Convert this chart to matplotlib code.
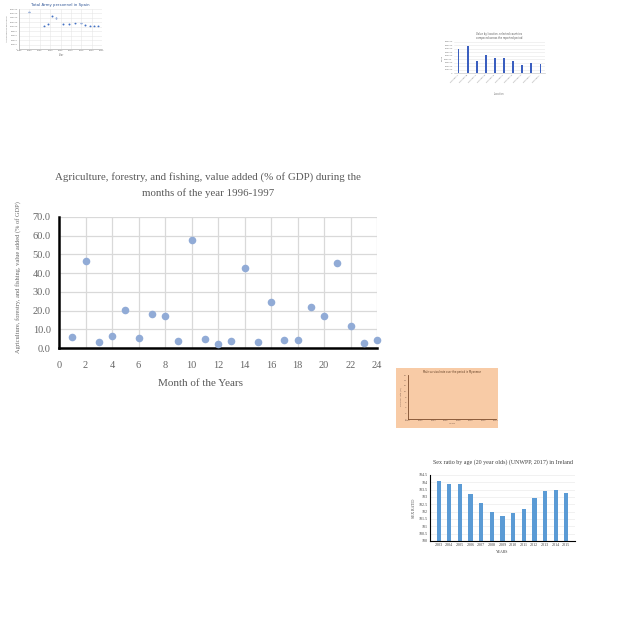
import numpy as np
import matplotlib.pyplot as plt

# main chart data
months = list(range(1, 25))
value_added = [5.9, 46.3, 3.0, 6.4, 20.3, 5.5, 18.4, 16.9, 3.6, 57.6, 5.0, 2.3,
               3.9, 43.0, 3.4, 24.8, 4.5, 4.5, 22.1, 16.9, 45.5, 11.9, 2.7, 4.3]

# thumbnail: army personnel in Spain
army_years = [1990, 1997, 1999, 2001, 2003, 2006, 2009, 2012, 2015, 2017, 2019, 2021, 2023]
army_people = [166000, 104000, 112000, 147000, 138000, 112000, 113000, 116000,
               116000, 110000, 104000, 103000, 103000]

# thumbnail: bar chart by location
locations = ['Country A', 'Country B', 'Country C', 'Country D', 'Country E',
             'Country F', 'Country G', 'Country H', 'Country I', 'Country J']
location_values = [687000, 774000, 339000, 532000, 445000, 426000, 348000, 242000, 300000, 252000]

# thumbnail: Ireland sex ratio
ireland_years = [str(y) for y in range(2003, 2016)]
sex_ratio = [104.1, 103.9, 103.9, 103.2, 102.6, 102.0, 101.7, 101.9, 102.2, 102.9, 103.4, 103.5, 103.3]

fig = plt.figure(figsize=(6.4, 6.4), dpi=100)
W = H = 640.0


def box(x0, y0, x1, y1):
    return [x0 / W, 1 - y1 / H, (x1 - x0) / W, (y1 - y0) / H]


# ---- main scatter chart ----
serif = 'Liberation Serif'
grey = '#666666'
ax = fig.add_axes(box(59, 217, 377, 348))
ax.scatter(months, value_added, s=30, color='#91abd6', zorder=3, linewidths=0, clip_on=False)
ax.set_xlim(0, 24)
ax.set_ylim(0, 70)
ax.set_xticks(np.arange(0, 25, 2))
ax.set_yticks(np.arange(0, 71, 10))
ax.set_yticklabels([f'{v:.1f}' for v in np.arange(0, 71, 10)])
ax.grid(True, color='#d9d9d9', linewidth=0.9)
ax.set_axisbelow(True)
for s in ['top', 'right']:
    ax.spines[s].set_visible(False)
for s in ['left', 'bottom']:
    ax.spines[s].set_linewidth(1.8)
    ax.spines[s].set_color('black')
ax.tick_params(axis='y', length=0, labelsize=7.5, labelcolor=grey, pad=6)
ax.tick_params(axis='x', length=0, labelsize=7.5, labelcolor=grey, pad=9)
for lab in ax.get_xticklabels() + ax.get_yticklabels():
    lab.set_family(serif)
fig.text(208 / W, 1 - 177 / H, 'Agriculture, forestry, and fishing, value added (% of GDP) during the',
         ha='center', va='center', fontsize=7.8, color='#595959', family=serif)
fig.text(208 / W, 1 - 193 / H, 'months of the year 1996-1997',
         ha='center', va='center', fontsize=7.8, color='#595959', family=serif)
fig.text(200 / W, 1 - 383 / H, 'Month of the Years', ha='center', va='center',
         fontsize=8, color='#595959', family=serif)
fig.text(18 / W, 1 - 277 / H, 'Agriculture, forestry, and fishing, value added (% of GDP)',
         ha='center', va='center', rotation=90, fontsize=4.6, color=grey, family=serif)

# ---- thumbnail: Spain army scatter ----
t1 = fig.add_axes(box(19, 9, 102, 49))
t1.scatter(army_years, army_people, s=2, color='#4472c4', linewidths=0)
t1.set_xlim(1985, 2025)
t1.set_ylim(0, 180000)
t1.set_yticks(np.arange(0, 180001, 20000))
t1.set_xticks(np.arange(1985, 2026, 5))
t1.grid(True, color='#e6e6e6', linewidth=0.4)
t1.tick_params(labelsize=1.6, length=0, pad=1, labelcolor='#777777')
for s in ['top', 'right']:
    t1.spines[s].set_visible(False)
for s in ['left', 'bottom']:
    t1.spines[s].set_linewidth(0.4)
    t1.spines[s].set_color('#999999')
t1.set_title('Total Army personnel in Spain', fontsize=2.8, color='#2f5597', pad=2)
t1.set_xlabel('Year', fontsize=1.8, labelpad=1, color='#777777')
t1.set_ylabel('Armed forces personnel', fontsize=1.6, labelpad=1, color='#777777')

# ---- thumbnail: location bars ----
t2 = fig.add_axes(box(454, 42, 545, 73))
t2.bar(locations, location_values, width=0.15, color='#3b5fc0')
t2.set_ylim(0, 900000)
t2.set_yticks(np.arange(0, 900001, 100000))
t2.grid(True, axis='y', color='#e6e6e6', linewidth=0.4)
t2.set_axisbelow(True)
t2.tick_params(labelsize=1.6, length=0, pad=1, labelcolor='#777777')
plt.setp(t2.get_xticklabels(), rotation=45, ha='right')
for s in ['top', 'right', 'left']:
    t2.spines[s].set_visible(False)
t2.spines['bottom'].set_linewidth(0.4)
t2.spines['bottom'].set_color('#bbbbbb')
t2.set_title('Value by location, selected countries\ncompared across the reported period',
             fontsize=1.8, color='#555555', pad=2)
t2.set_xlabel('Location', fontsize=1.8, labelpad=6, color='#777777')
t2.set_ylabel('Value', fontsize=1.6, labelpad=1, color='#777777')

# ---- thumbnail: orange empty chart ----
bg = fig.add_axes(box(396, 368, 498, 428))
bg.set_facecolor('#f8cba6')
bg.set_xticks([])
bg.set_yticks([])
for s in bg.spines.values():
    s.set_visible(False)
t3 = fig.add_axes(box(408, 375, 496, 419))
t3.set_facecolor('#f8cba6')
t3.set_xlim(2000, 2014)
t3.set_ylim(0, 16)
t3.set_xticks(np.arange(2000, 2015, 2))
t3.set_yticks(np.arange(0, 17, 2))
t3.tick_params(labelsize=1.6, length=0, pad=1, labelcolor='#7f5f4f')
for s in ['top', 'right']:
    t3.spines[s].set_visible(False)
for s in ['left', 'bottom']:
    t3.spines[s].set_linewidth(0.6)
    t3.spines[s].set_color('#7b4b2a')
t3.set_title('Male survival rate over the period in Myanmar', fontsize=1.8,
             color='#5b3a20', pad=1.5)
t3.set_xlabel('Years', fontsize=1.6, labelpad=1, color='#7f5f4f')
t3.set_ylabel('Survival rate (%)', fontsize=1.6, labelpad=1, color='#7f5f4f')

# ---- thumbnail: Ireland sex ratio bars ----
t4 = fig.add_axes(box(430, 475, 575, 541))
t4.bar(ireland_years, sex_ratio, width=0.4, color='#5b9bd5')
t4.set_ylim(100, 104.5)
t4.set_yticks(np.arange(100, 104.6, 0.5))
t4.set_yticklabels([f'{v:g}' for v in np.arange(100, 104.6, 0.5)])
t4.grid(True, axis='y', color='#e6e6e6', linewidth=0.4)
t4.set_axisbelow(True)
t4.tick_params(labelsize=3, length=0, pad=1.5, labelcolor='#404040')
for s in ['top', 'right']:
    t4.spines[s].set_visible(False)
for s in ['left', 'bottom']:
    t4.spines[s].set_linewidth(0.8)
    t4.spines[s].set_color('black')
for lab in t4.get_xticklabels() + t4.get_yticklabels():
    lab.set_family(serif)
fig.text(503 / W, 1 - 462 / H, 'Sex ratio by age (20 year olds) (UNWPP, 2017) in Ireland',
         ha='center', va='center', fontsize=4.3, color='#404040', family=serif)
t4.set_xlabel('YEARS', fontsize=2.8, labelpad=2, color='#404040', family=serif)
t4.set_ylabel('SEX RATIO', fontsize=2.8, labelpad=2, color='#404040', family=serif)

fig.savefig('out.png', dpi=100, facecolor='white')
